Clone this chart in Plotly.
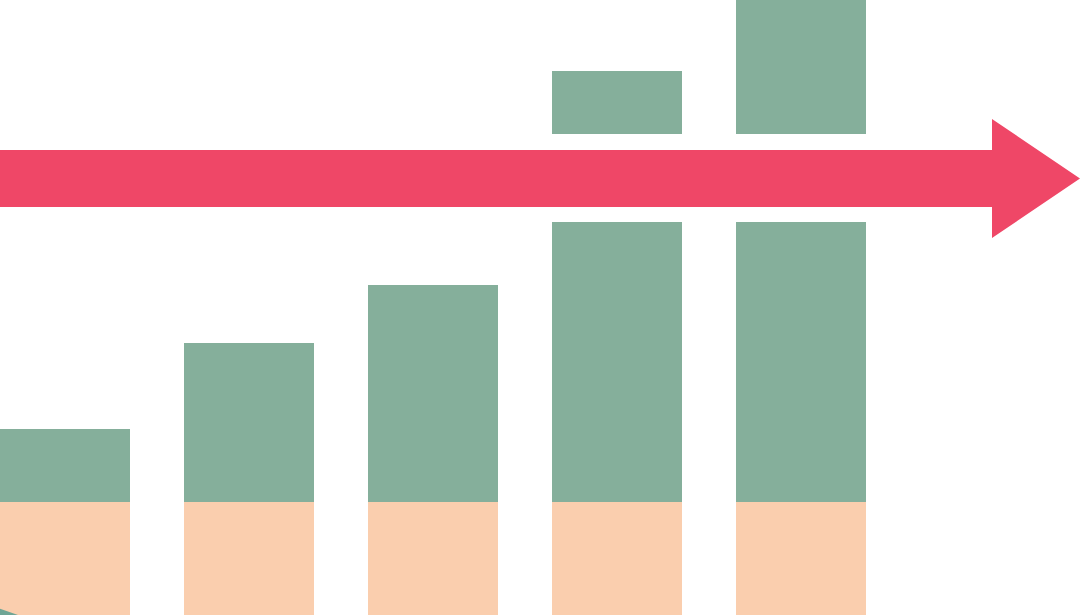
import plotly.graph_objs as go

W, H = 1080, 615

# bar data (units = pixels of height above the bottom edge)
steps = [1, 2, 3, 4, 5]
base_part = [113, 113, 113, 113, 113]     # peach foundation
growth_part = [73, 159, 217, 280, 280]    # green, below the arrow
gap_part = [0, 0, 0, 88, 88]              # white cut around the arrow
top_part = [0, 0, 0, 63, 140]             # green, above the arrow

colors = {'base': '#FACEAE', 'growth': '#85AF9B', 'arrow': '#EF4767'}

# arrow geometry in pixels (from top-left)
shaft_top, shaft_bottom, shaft_end = 150, 207, 992
head_top, head_bottom, tip_x = 119, 238, 1080

fig = go.Figure()

bar_w = 130 / 184
for vals, col in [(base_part, colors['base']), (growth_part, colors['growth']),
                  (gap_part, 'rgba(0,0,0,0)'), (top_part, colors['growth'])]:
    fig.add_trace(go.Bar(x=steps, y=vals, width=bar_w, marker=dict(color=col, line=dict(width=0)),
                         hoverinfo='skip', showlegend=False))


def px(x, y):
    return f"{x / W:.5f},{1 - y / H:.5f}"


mid = (head_top + head_bottom) / 2
arrow_path = ("M " + px(-5, shaft_top) + " L " + px(shaft_end, shaft_top) + " L " + px(shaft_end, head_top)
              + " L " + px(tip_x, mid) + " L " + px(shaft_end, head_bottom) + " L " + px(shaft_end, shaft_bottom)
              + " L " + px(-5, shaft_bottom) + " Z")
fig.add_shape(type='path', path=arrow_path, xref='paper', yref='paper',
              fillcolor=colors['arrow'], line=dict(width=0), layer='above')

# small teal sliver in the bottom-left corner
sliver = "M " + px(-2, 608) + " L " + px(18, 615) + " L " + px(-2, 616) + " Z"
fig.add_shape(type='path', path=sliver, xref='paper', yref='paper',
              fillcolor='#6FA595', line=dict(width=0), layer='above')

x0 = 1 - 65 / 184
fig.update_layout(
    width=W, height=H,
    margin=dict(l=0, r=0, t=0, b=0),
    barmode='stack', bargap=0,
    plot_bgcolor='white', paper_bgcolor='white',
    xaxis=dict(range=[x0, x0 + W / 184], visible=False, fixedrange=True),
    yaxis=dict(range=[0, H], visible=False, fixedrange=True),
)

# drop the default page margin so the figure sits flush in the window
fig.write_html("out.html", config={'displayModeBar': False},
               post_script="document.body.style.margin='0'; document.body.style.overflow='hidden';")
